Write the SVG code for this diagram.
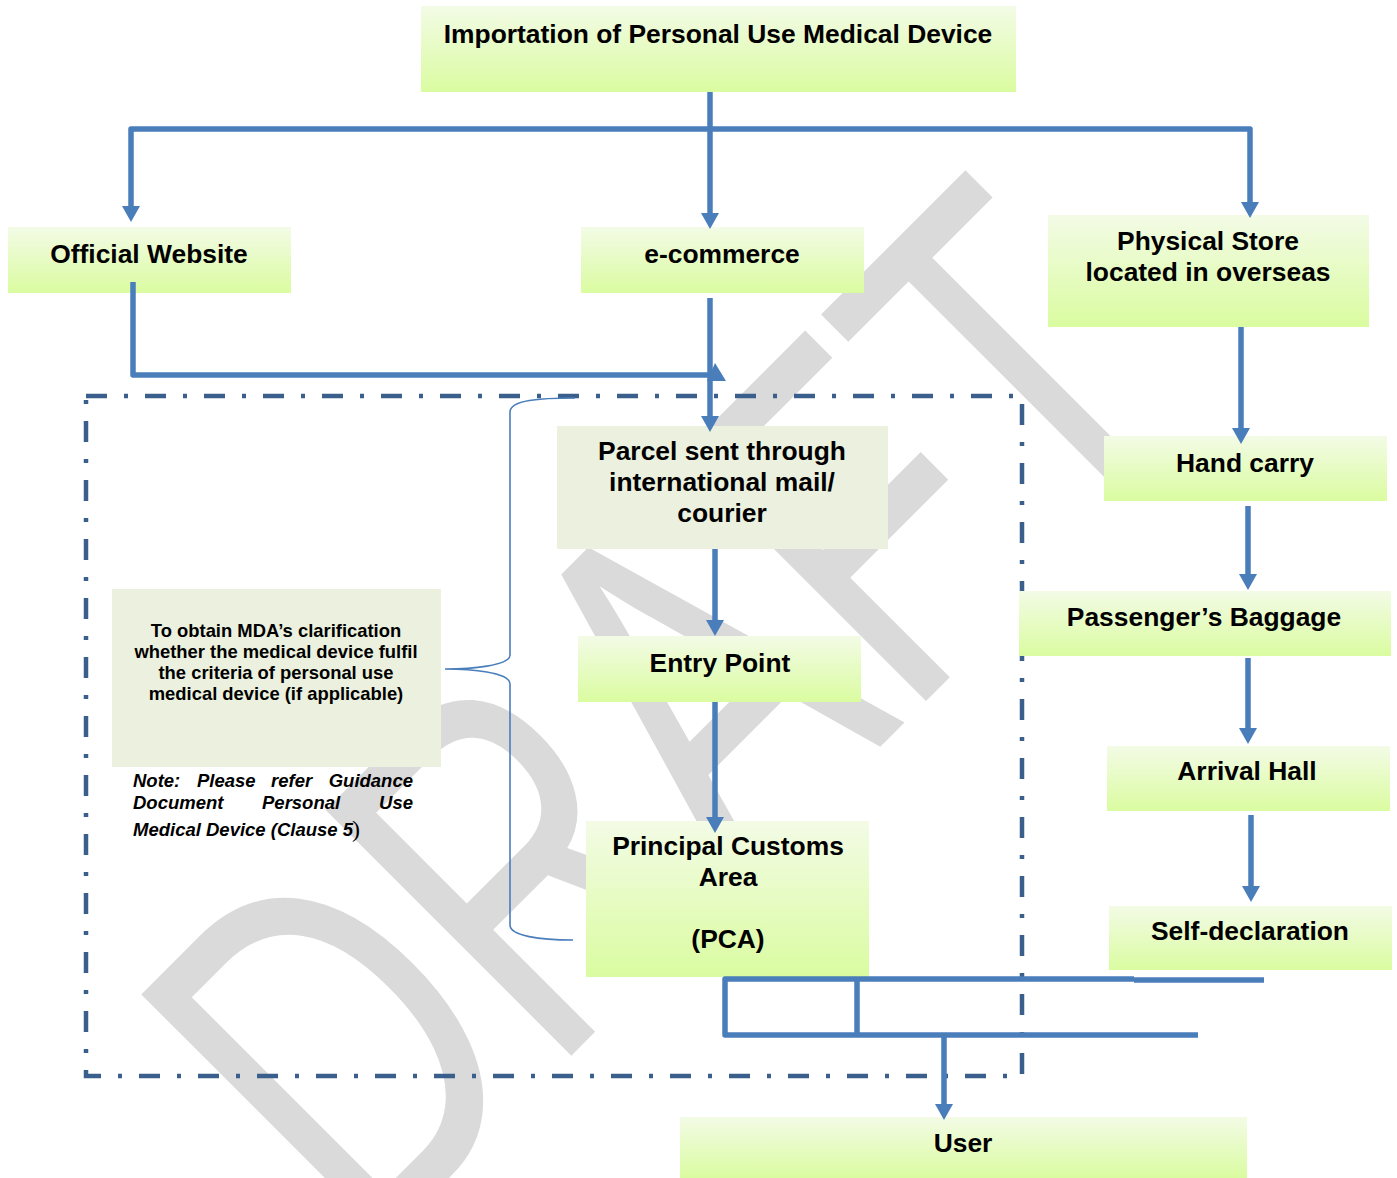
<svg xmlns="http://www.w3.org/2000/svg" width="1397" height="1178" viewBox="0 0 1397 1178">
<defs>
<linearGradient id="g" x1="0" y1="0" x2="0" y2="1">
<stop offset="0" stop-color="#f3fbe6"/>
<stop offset="1" stop-color="#dafca0"/>
</linearGradient>
<marker id="ah" markerUnits="userSpaceOnUse" viewBox="0 0 16 18" markerWidth="16" markerHeight="18" refX="8" refY="9" orient="auto">
<path d="M0,0 L16,9 L0,18 Z" fill="#4a7ebb"/>
</marker>
<style>
.box{fill:url(#g);}
.flat{fill:#ebf1de;}
.lbl{font-family:"Liberation Sans",Arial,sans-serif;font-weight:bold;font-size:26.4px;fill:#000;text-anchor:middle;}
.sm{font-family:"Liberation Sans",Arial,sans-serif;font-weight:bold;font-size:18.4px;fill:#000;text-anchor:middle;}
.note{font-family:"Liberation Sans",Arial,sans-serif;font-weight:bold;font-style:italic;font-size:18.5px;fill:#000;}
.ln{fill:none;stroke:#4a7ebb;stroke-width:5.5;stroke-linejoin:round;}
.arr{marker-end:url(#ah);}
</style>
</defs>
<rect width="1397" height="1178" fill="#fff"/>
<g id="watermark">
<text transform="translate(366,1261) rotate(-45) scale(0.715,1)" font-family="Liberation Sans, Arial, sans-serif" font-size="505" fill="#dadada">DRAFT</text>
</g>
<g id="boundary">
<rect x="86" y="396" width="936" height="680" fill="none" stroke="#3a5f8c" stroke-width="4.5" stroke-dasharray="21 17 4 17"/>
</g>
<g id="brace">
<path d="M575,398 C540,398 510,400 510,412 L510,655 C510,666 470,669 445,669 C470,669 510,672 510,684 L510,925 C510,936 540,940 573,940" fill="none" stroke="#4a7ebb" stroke-width="1.6"/>
</g>
<g id="n-title"><rect class="box" x="421" y="6" width="595" height="86"/><text class="lbl" x="718" y="43">Importation of Personal Use Medical Device</text></g>
<g id="n-website"><rect class="box" x="8" y="227" width="283" height="66"/><text class="lbl" x="149" y="263">Official Website</text></g>
<g id="n-ecommerce"><rect class="box" x="581" y="227" width="283" height="66"/><text class="lbl" x="722" y="263">e-commerce</text></g>
<g id="n-store"><rect class="box" x="1048" y="215" width="321" height="112"/><text class="lbl" x="1208" y="250">Physical Store</text><text class="lbl" x="1208" y="281">located in overseas</text></g>
<g id="n-handcarry"><rect class="box" x="1104" y="436" width="283" height="65"/><text class="lbl" x="1245" y="472">Hand carry</text></g>
<g id="n-baggage"><rect class="box" x="1019" y="591" width="372" height="65"/><text class="lbl" x="1204" y="626">Passenger’s Baggage</text></g>
<g id="n-arrival"><rect class="box" x="1107" y="746" width="283" height="65"/><text class="lbl" x="1247" y="780">Arrival Hall</text></g>
<g id="n-selfdecl"><rect class="box" x="1109" y="906" width="283" height="64"/><text class="lbl" x="1250" y="940">Self-declaration</text></g>
<g id="n-parcel"><rect class="flat" x="557" y="426" width="331" height="123"/><text class="lbl" x="722" y="460">Parcel sent through</text><text class="lbl" x="722" y="491">international mail/</text><text class="lbl" x="722" y="522">courier</text></g>
<g id="n-entry"><rect class="box" x="578" y="636" width="283" height="66"/><text class="lbl" x="720" y="672">Entry Point</text></g>
<g id="n-pca"><rect class="box" x="586" y="821" width="283" height="156"/><text class="lbl" x="728" y="855">Principal Customs</text><text class="lbl" x="728" y="886">Area</text><text class="lbl" x="728" y="948">(PCA)</text></g>
<g id="n-user"><rect class="box" x="680" y="1117" width="567" height="61"/><text class="lbl" x="963" y="1152">User</text></g>
<g id="n-mda"><rect class="flat" x="112" y="589" width="329" height="178"/>
<text class="sm" x="276" y="637">To obtain MDA’s clarification</text>
<text class="sm" x="276" y="658">whether the medical device fulfil</text>
<text class="sm" x="276" y="679">the criteria of personal use</text>
<text class="sm" x="276" y="700">medical device (if applicable)</text>
</g>
<g id="note">
<text class="note" x="133" y="787">Note:</text><text class="note" x="197" y="787">Please</text><text class="note" x="271" y="787">refer</text><text class="note" x="413" y="787" text-anchor="end">Guidance</text>
<text class="note" x="133" y="809">Document</text><text class="note" x="262" y="809">Personal</text><text class="note" x="413" y="809" text-anchor="end">Use</text>
<text class="note" x="133" y="836">Medical Device (Clause 5</text><text x="352" y="837" font-family="Liberation Serif, serif" font-size="24">)</text>
</g>
<g id="connectors">
<path class="ln arr" d="M710,92 V221"/>
<path class="ln arr" d="M712,129 H131 V214"/>
<path class="ln arr" d="M708,129 H1250 V210"/>
<path class="ln" d="M133,282 V375 H712"/>
<polygon points="707,381 726,381 715,363" fill="#4a7ebb"/>
<path class="ln arr" d="M710,298 V424"/>
<path class="ln arr" d="M715,549 V628"/>
<path class="ln arr" d="M715,702 V825"/>
<path class="ln arr" d="M1241,327 V436"/>
<path class="ln arr" d="M1248,506 V582"/>
<path class="ln arr" d="M1248,658 V736"/>
<path class="ln arr" d="M1251,815 V894"/>
<path class="ln" d="M1134,980 H1264" stroke-width="6"/>
<path class="ln" d="M1134,979 H725 V1035 H1198" stroke-width="8"/>
<path class="ln" d="M857,979 V1035" stroke-width="6"/>
<path class="ln arr" d="M944,1035 V1112"/>
</g>
</svg>
